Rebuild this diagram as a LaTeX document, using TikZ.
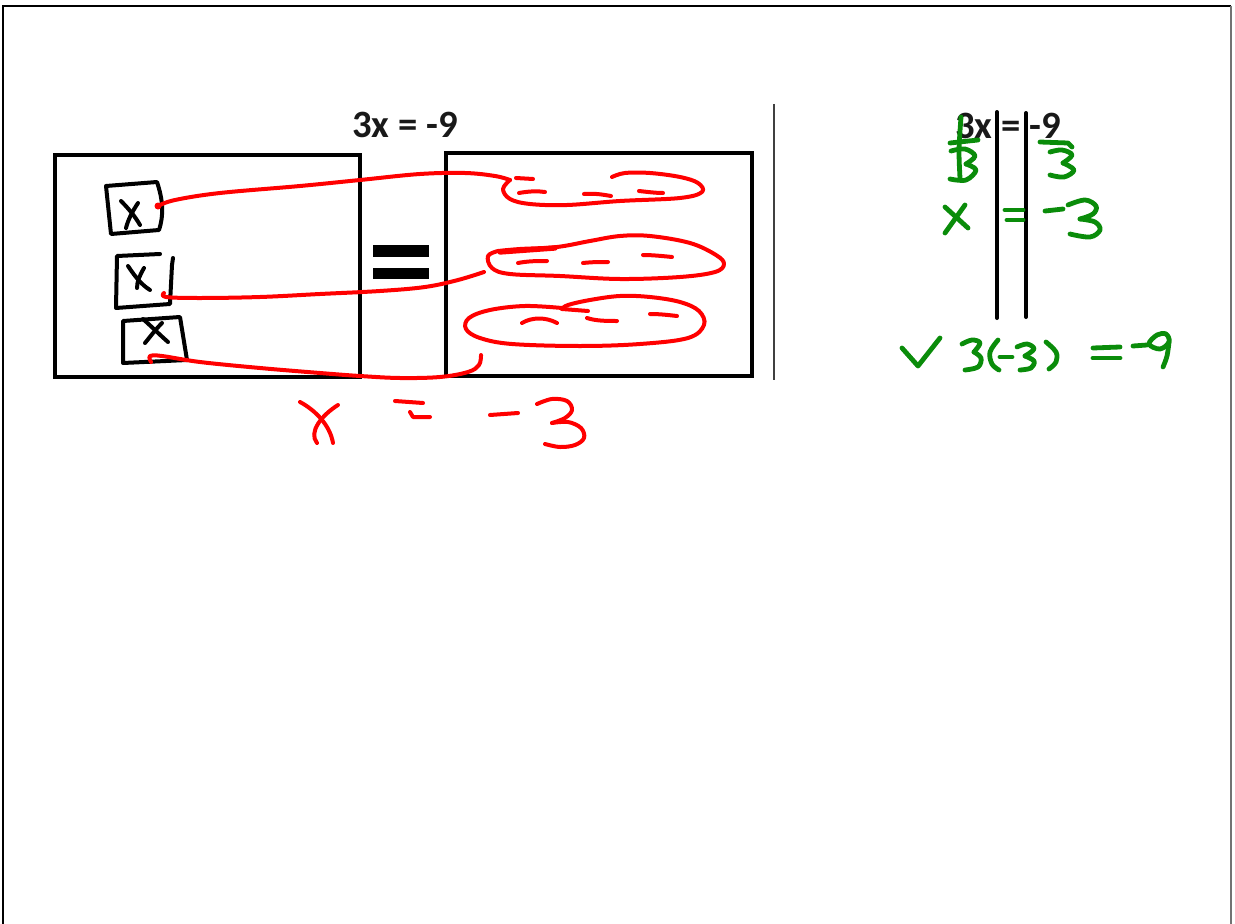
\documentclass[tikz,border=0pt]{standalone}
\usepackage{fontspec}
\setmainfont{Carlito}
\definecolor{inkred}{RGB}{255,0,0}
\definecolor{inkgreen}{RGB}{10,140,10}
\begin{document}
\begin{tikzpicture}[x=0.75pt,y=-0.75pt,
  hand/.style={line cap=round,line join=round},
  redink/.style={hand,draw=inkred,line width=3pt},
  greenink/.style={hand,draw=inkgreen,line width=3.6pt},
  blackink/.style={hand,draw=black,line width=3pt},
  panel/.style={draw=black,line width=3pt},
  title/.style={font=\bfseries\fontsize{29}{34}\selectfont,inner sep=0pt,text=black!90}
]
\useasboundingbox (0,0) rectangle (1235,924);
% page frame
\draw[line width=2.2pt,black] (3,924) -- (3,6) -- (1231,6);
\draw[line width=2.2pt,black!55] (1231,6) -- (1231,924);

% titles
\node[title] (t1) at (405,125) {3x = -9};
\node[title] (t2) at (1008,126) {3x = -9};

% panels
\draw[panel] (55,155) rectangle (360,377);
\draw[panel] (446,153) rectangle (752,376);
\fill[black] (373,245) rectangle (429,257);
\fill[black] (373,268) rectangle (429,279);
\draw[line width=1.5pt,black!75] (774,104) -- (774,380);

% hand-drawn boxes with x
\draw[blackink] (106,186) -- (157,182) .. controls (163,200) and (164,215) .. (159,230) -- (111,234) -- cycle;
\draw[blackink] (121,201) .. controls (130,210) and (136,218) .. (140,225);
\draw[blackink] (138,203) .. controls (132,212) and (128,220) .. (126,228);
\draw[blackink] (160,254) -- (117,256) -- (116,308) -- (170,304) -- (172,265) -- (173,258);
\draw[blackink] (128,266) .. controls (136,278) and (142,285) .. (150,290);
\draw[blackink] (144,268) .. controls (140,275) and (137,281) .. (137,288);
\draw[blackink] (123,321) -- (180,317) -- (187,360) -- (123,363) -- cycle;
\draw[blackink] (143,319) .. controls (152,327) and (160,335) .. (168,342);
\draw[blackink] (162,323) .. controls (155,330) and (150,337) .. (145,343);

% red connectors and groups
\fill[inkred] (158,206) circle (3.5);
\draw[redink] plot[smooth,tension=0.6] coordinates {(158,206) (175,200) (220,193) (300,186) (360,180) (420,174) (465,173) (495,176) (510,180)};
\draw[redink] plot[smooth,tension=0.6] coordinates {(510,180) (503,189) (510,199) (530,204) (567,205) (620,201) (680,198) (702,192) (698,183) (680,177) (650,173) (625,173) (612,177)};
\draw[redink] (516,178) -- (533,179);
\draw[redink] (519,193) .. controls (530,191) and (538,191) .. (545,192);
\draw[redink] (584,194) .. controls (595,193) and (605,195) .. (611,196);
\draw[redink] (639,191) .. controls (648,192) and (656,193) .. (663,193);

\draw[redink] plot[smooth,tension=0.6] coordinates {(164,293) (166,297) (200,298) (260,297) (320,294) (380,291) (425,287) (458,280) (484,272)};
\draw[redink] plot[smooth,tension=0.6] coordinates {(498,251) (488,256) (492,268) (510,274) (560,276) (620,279) (680,277) (715,272) (724,264) (716,255) (690,243) (650,236) (620,236) (590,241) (557,247) (520,249) (498,251)};
\draw[redink,line width=4pt] (500,252) -- (555,248);
\draw[redink] (518,263) .. controls (528,261) and (538,261) .. (547,261);
\draw[redink] (583,263) .. controls (592,262) and (600,262) .. (608,262);
\draw[redink] (643,255) .. controls (652,255) and (662,256) .. (672,257);

\draw[redink] plot[smooth,tension=0.6] coordinates {(151,362) (150,356) (162,356) (200,362) (260,368) (320,373) (360,376) (400,378) (440,377) (468,372) (479,365) (481,355)};
\draw[redink] plot[smooth,tension=0.6] coordinates {(562,308) (525,306) (490,310) (469,318) (466,329) (480,338) (512,344) (580,346) (640,344) (688,338) (704,325) (699,311) (680,302) (650,297) (620,296) (590,300) (568,305) (562,309)};
\draw[redink] (562,309) -- (588,311);
\draw[redink] (522,323) .. controls (532,317) and (546,317) .. (557,323);
\draw[redink] (587,318) .. controls (596,321) and (607,321) .. (617,321);
\draw[redink] (650,314) .. controls (660,314) and (668,315) .. (677,316);

% red answer  x = -3
\draw[redink] (300,402) .. controls (315,410) and (330,425) .. (333,443);
\draw[redink] (338,405) .. controls (322,415) and (308,432) .. (317,443);
\draw[redink] (395,401) -- (423,403);
\draw[redink] (410,412) -- (413,417) -- (430,417);
\draw[redink] (490,415) -- (518,413);
\draw[redink] plot[smooth,tension=0.6] coordinates {(537,404) (552,399) (567,401) (572,410) (565,418) (552,423)};
\draw[redink] plot[smooth,tension=0.6] coordinates {(552,423) (568,422) (581,428) (584,438) (575,445) (560,447) (545,444)};

% right working
\draw[blackink,line width=3pt] (997,112) -- (997,318);
\draw[blackink,line width=3pt] (1026,113) -- (1026,317);

\draw[greenink] plot[smooth] coordinates {(961,117) (959,150) (960,178)};
\draw[greenink] (950,143) -- (978,140);
\draw[greenink] plot[smooth,tension=0.6] coordinates {(951,151) (965,149) (975,156) (966,164)};
\draw[greenink] plot[smooth,tension=0.6] coordinates {(966,164) (976,170) (966,180) (950,179)};
\draw[greenink] (1040,142) -- (1068,143) -- (1072,147);
\draw[greenink] plot[smooth,tension=0.6] coordinates {(1050,152) (1062,150) (1072,155) (1063,163)};
\draw[greenink] plot[smooth,tension=0.6] coordinates {(1063,163) (1074,170) (1064,177) (1050,175)};

\draw[greenink] (945,207) -- (968,228);
\draw[greenink] (965,205) -- (945,233);
\draw[greenink] (1005,210) -- (1023,210);
\draw[greenink] (1007,220) -- (1023,220);
\draw[greenink] (1045,211) -- (1063,209);
\draw[greenink] plot[smooth,tension=0.6] coordinates {(1068,205) (1085,200) (1096,206) (1093,214) (1080,219)};
\draw[greenink] plot[smooth,tension=0.6] coordinates {(1080,219) (1095,222) (1100,230) (1090,237) (1070,234)};

% check
\draw[greenink] (902,348) -- (918,366) -- (940,338);
\draw[greenink] plot[smooth,tension=0.6] coordinates {(962,344) (972,340) (980,343) (974,352)};
\draw[greenink] plot[smooth,tension=0.6] coordinates {(974,352) (981,358) (978,367) (965,370)};
\draw[greenink] plot[smooth,tension=0.6] coordinates {(998,340) (990,352) (992,364) (999,370)};
\draw[greenink] (1000,357) -- (1012,357);
\draw[greenink] plot[smooth,tension=0.6] coordinates {(1017,347) (1027,344) (1034,349) (1025,356)};
\draw[greenink] plot[smooth,tension=0.6] coordinates {(1025,356) (1034,361) (1031,368) (1020,370)};
\draw[greenink] plot[smooth,tension=0.6] coordinates {(1046,342) (1056,352) (1056,362) (1049,369)};
\draw[greenink] (1093,348) -- (1120,347);
\draw[greenink] (1093,358) -- (1120,358);
\draw[greenink] (1133,346) -- (1147,345);
\draw[greenink] plot[smooth cycle,tension=0.6] coordinates {(1149,344) (1157,335) (1166,334) (1169,342) (1160,349)};
\draw[greenink] plot[smooth,tension=0.6] coordinates {(1169,342) (1167,356) (1163,367)};
\end{tikzpicture}
\end{document}
